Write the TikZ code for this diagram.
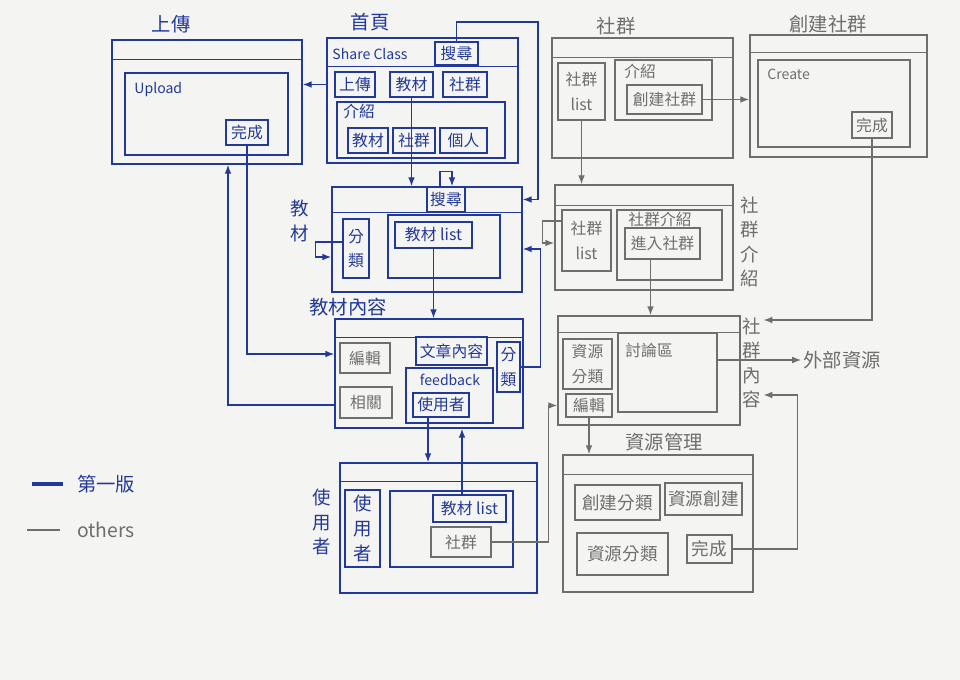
\documentclass[tikz,border=0pt]{standalone}
\usepackage{fontspec}
\usepackage{tikz}
\usetikzlibrary{arrows.meta,positioning}
\newfontfamily\cjk{Noto Sans CJK TC}
\definecolor{ink}{HTML}{23399A}
\definecolor{lead}{HTML}{6E6E6E}
\definecolor{paper}{HTML}{F4F4F2}

\begin{document}
\begin{tikzpicture}[
  font=\cjk\fontsize{9}{14}\selectfont,
  wh/.style 2 args={minimum width=#1cm,minimum height=#2cm},
  bbox/.style={draw=ink,thick,text=ink,inner sep=0pt,align=center},
  gbox/.style={draw=lead,thick,text=lead,inner sep=0pt,align=center},
  btxt/.style={text=ink,inner sep=1pt,align=center},
  gtxt/.style={text=lead,inner sep=1pt,align=center},
  ttl/.style={font=\cjk\fontsize{11}{14}\selectfont},
  vt/.style={font=\cjk\fontsize{10.5}{14}\selectfont},
  big/.style={font=\cjk\fontsize{10}{14}\selectfont},
  lat/.style={font=\cjk\fontsize{8}{10}\selectfont},
  fl/.style={-{Latex[length=1.8mm]},draw=ink,thick},
  gl/.style={-{Latex[length=1.8mm]},draw=lead,thick},
]
\useasboundingbox (0,0) rectangle (19.2,-13.6);
\fill[paper] (0,0) rectangle (19.2,-13.6);

\node[btxt,ttl] (upT) at (3.42,-0.48) {上傳};
\node[bbox,wh={3.8}{2.48}] (upPg) at (4.14,-2.04) {};
\draw[ink,thick] ([yshift=-0.4cm]upPg.north west) -- ([yshift=-0.4cm]upPg.north east);
\node[bbox,wh={3.26}{1.64}] (upIn) at (4.13,-2.28) {};
\node[btxt,lat,anchor=north west] (upTx) at ([shift={(0.16,-0.16)}]upIn.north west) {Upload};
\node[bbox,wh={0.84}{0.5}] (upDone) at (4.94,-2.65) {完成};

\node[btxt,ttl] (homeT) at (7.4,-0.44) {首頁};
\node[bbox,wh={3.82}{2.5}] (homePg) at (8.45,-2.01) {};
\draw[ink,thick] ([yshift=-0.58cm]homePg.north west) -- ([yshift=-0.58cm]homePg.north east);
\node[btxt,lat] (homeTx) at (7.4,-1.08) {Share Class};
\node[bbox,wh={0.86}{0.46}] (homeSrch) at (9.13,-1.07) {搜尋};
\node[bbox,wh={0.8}{0.5}] (homeUp) at (7.1,-1.69) {上傳};
\node[bbox,wh={0.86}{0.5}] (homeMat) at (8.23,-1.69) {教材};
\node[bbox,wh={0.88}{0.5}] (homeGrp) at (9.3,-1.69) {社群};
\node[bbox,wh={3.36}{1.12}] (homeIntro) at (8.42,-2.6) {};
\node[btxt,anchor=north west] (homeIntroTx) at ([shift={(0.1,-0.02)}]homeIntro.north west) {介紹};
\node[bbox,wh={0.8}{0.5}] (homeIMat) at (7.36,-2.81) {教材};
\node[bbox,wh={0.84}{0.5}] (homeIGrp) at (8.28,-2.81) {社群};
\node[bbox,wh={0.94}{0.5}] (homeIMe) at (9.27,-2.81) {個人};

\node[btxt,vt] (matT) at (6.0,-4.42) {教\\材};
\node[bbox,wh={3.8}{2.1}] (matPg) at (8.54,-4.79) {};
\draw[ink,thick] ([yshift=-0.52cm]matPg.north west) -- ([yshift=-0.52cm]matPg.north east);
\node[bbox,wh={0.76}{0.5}] (matSrch) at (8.92,-3.99) {搜尋};
\node[bbox,wh={0.52}{1.18}] (matCat) at (7.12,-4.97) {分\\類};
\node[bbox,wh={2.24}{1.26}] (matIn) at (8.88,-4.93) {};
\node[bbox,wh={1.54}{0.52}] (matList) at (8.67,-4.7) {教材 list};

\node[btxt,ttl] (matcT) at (6.96,-6.14) {教材內容};
\node[bbox,wh={3.76}{2.18}] (matcPg) at (8.58,-7.47) {};
\draw[ink,thick] ([yshift=-0.38cm]matcPg.north west) -- ([yshift=-0.38cm]matcPg.north east);
\node[gbox,wh={1.0}{0.6}] (matcEdit) at (7.3,-7.16) {編輯};
\node[gbox,wh={1.04}{0.62}] (matcRel) at (7.32,-8.05) {相關};
\node[bbox,wh={1.42}{0.56}] (matcArt) at (9.03,-7.02) {文章內容};
\node[bbox,wh={1.74}{1.1}] (matcFb) at (8.99,-7.91) {};
\node[btxt,lat] (matcFbTx) at (9.0,-7.6) {feedback};
\node[bbox,wh={1.12}{0.48}] (matcUser) at (8.82,-8.1) {使用者};
\node[bbox,wh={0.46}{1.0}] (matcCat) at (10.17,-7.34) {分\\類};

\node[btxt,vt] (userT) at (6.44,-10.44) {使\\用\\者};
\node[bbox,wh={3.94}{2.6}] (userPg) at (8.77,-10.56) {};
\draw[ink,thick] ([yshift=-0.38cm]userPg.north west) -- ([yshift=-0.38cm]userPg.north east);
\node[bbox,vt,wh={0.7}{1.54}] (userSide) at (7.25,-10.57) {使\\用\\者};
\node[bbox,wh={2.46}{1.52}] (userIn) at (9.03,-10.58) {};
\node[bbox,wh={1.46}{0.54}] (userList) at (9.39,-10.17) {教材 list};
\node[gbox,wh={1.2}{0.6}] (userGrp) at (9.22,-10.84) {社群};

\node[gtxt,ttl] (grpT) at (12.32,-0.52) {社群};
\node[gbox,wh={3.62}{2.4}] (grpPg) at (12.85,-1.96) {};
\draw[lead,thick] ([yshift=-0.4cm]grpPg.north west) -- ([yshift=-0.4cm]grpPg.north east);
\node[gbox,wh={0.94}{1.14}] (grpList) at (11.63,-1.83) {社群\\list};
\node[gbox,wh={1.94}{1.2}] (grpIntro) at (13.27,-1.8) {};
\node[gtxt,anchor=north west] (grpIntroTx) at ([shift={(0.16,-0.06)}]grpIntro.north west) {介紹};
\node[gbox,wh={1.5}{0.58}] (grpNew) at (13.29,-1.99) {創建社群};

\node[gtxt,ttl] (newT) at (16.56,-0.48) {創建社群};
\node[gbox,wh={3.54}{2.44}] (newPg) at (16.77,-1.92) {};
\draw[lead,thick] ([yshift=-0.36cm]newPg.north west) -- ([yshift=-0.36cm]newPg.north east);
\node[gbox,wh={3.04}{1.74}] (newIn) at (16.68,-2.07) {};
\node[gtxt,lat,anchor=north west] (newTx) at ([shift={(0.16,-0.16)}]newIn.north west) {Create};
\node[gbox,wh={0.8}{0.52}] (newDone) at (17.44,-2.5) {完成};

\node[gtxt,vt] (gdT) at (15.0,-4.84) {社\\群\\介\\紹};
\node[gbox,wh={3.56}{2.1}] (gdPg) at (12.88,-4.75) {};
\draw[lead,thick] ([yshift=-0.42cm]gdPg.north west) -- ([yshift=-0.42cm]gdPg.north east);
\node[gbox,wh={0.98}{1.22}] (gdList) at (11.73,-4.81) {社群\\list};
\node[gbox,wh={2.1}{1.4}] (gdIn) at (13.39,-4.9) {};
\node[gtxt] (gdInTx) at (13.2,-4.38) {社群介紹};
\node[gbox,wh={1.5}{0.62}] (gdJoin) at (13.25,-4.87) {進入社群};

\node[gtxt,vt] (grcT) at (15.04,-7.26) {社\\群\\內\\容};
\node[gbox,wh={3.64}{2.18}] (grcPg) at (12.98,-7.41) {};
\draw[lead,thick] ([yshift=-0.34cm]grcPg.north west) -- ([yshift=-0.34cm]grcPg.north east);
\node[gbox,wh={0.98}{1.0}] (grcCat) at (11.75,-7.28) {資源\\分類};
\node[gbox,wh={0.92}{0.46}] (grcEdit) at (11.78,-8.11) {編輯};
\node[gbox,wh={1.98}{1.58}] (grcTalk) at (13.35,-7.45) {};
\node[gtxt,anchor=north west] (grcTalkTx) at ([shift={(0.12,-0.18)}]grcTalk.north west) {討論區};
\node[gtxt,ttl] (ext) at (16.84,-7.2) {外部資源};

\node[gtxt,ttl] (mgT) at (13.28,-8.84) {資源管理};
\node[gbox,wh={3.8}{2.74}] (mgPg) at (13.16,-10.47) {};
\draw[lead,thick] ([yshift=-0.4cm]mgPg.north west) -- ([yshift=-0.4cm]mgPg.north east);
\node[gbox,big,wh={1.7}{0.7}] (mgNewCat) at (12.35,-10.05) {創建分類};
\node[gbox,big,wh={1.54}{0.64}] (mgNewRes) at (14.07,-9.98) {資源創建};
\node[gbox,big,wh={1.82}{0.84}] (mgCat) at (12.45,-11.08) {資源分類};
\node[gbox,big,wh={0.9}{0.56}] (mgDone) at (14.19,-10.98) {完成};

\node[btxt,ttl,anchor=west] (lgA) at (1.5,-9.68) {第一版};
\node[gtxt,ttl,anchor=west] (lgB) at (1.5,-10.6) {others};
\draw[ink,line width=2pt] ([xshift=-0.24cm]lgA.west) -- ++(-0.62,0);
\draw[lead,line width=1.6pt] ([xshift=-0.3cm]lgB.west) -- ++(-0.66,0);

\coordinate (c1) at (10.76,-0.44);
\coordinate (u1) at ([xshift=-0.26cm]matcUser.south);
\coordinate (u2) at ([xshift=-0.15cm]userList.north);
\coordinate (g1) at ([xshift=-0.24cm]gdJoin.south);
\draw[fl] (homeSrch.north) |- (c1) |- (matSrch -| matPg.east);
\draw[fl] (homePg.west |- homeUp) -- (upPg.east |- homeUp);
\draw[fl] (homeMat.south) -- (homeMat.south |- matPg.north);
\draw[fl] ([xshift=-0.12cm]matSrch.north) -- ++(0,0.3) -| ([xshift=0.12cm]matSrch.north);
\draw[fl] ([yshift=0.13cm]matCat.west) -- ++(-0.54,0) |- ([yshift=-0.35cm]matPg.west);
\draw[fl] (matList.south) -- (matList.south |- matcPg.north);
\draw[fl] (matcCat.east) -- ++(0.4,0) |- ([yshift=-0.19cm]matPg.east);
\draw[fl] (upDone.south) |- ([yshift=0.39cm]matcPg.west);
\draw[fl] ([yshift=-0.63cm]matcPg.west) -| ([xshift=0.42cm]upPg.south);
\draw[fl] (u1) -- (u1 |- userPg.north);
\draw[fl] (u2) -- (u2 |- matcPg.south);
\draw[gl] (grpNew.east) -- (grpNew.east -| newPg.west);
\draw[gl] (grpList.south) -- (grpList.south |- gdPg.north);
\draw[gl] ([yshift=0.39cm]gdList.west) -- ++(-0.38,0) |- ([yshift=-0.11cm]gdPg.west);
\draw[gl] (g1) -- (g1 |- grcPg.north);
\draw[gl] (grcTalk.east |- ext.west) -- (ext.west);
\draw[gl] (grcEdit.south) -- (grcEdit.south |- mgPg.north);
\draw[gl] (newDone.south) |- ([yshift=0.86cm]grcT.east);
\draw[gl] (mgDone.east) -- ++(1.3,0) |- ([yshift=-0.64cm]grcT.east);
\draw[gl] (userGrp.east) -- ++(1.14,0) |- (grcEdit -| grcPg.west);
\end{tikzpicture}
\end{document}
